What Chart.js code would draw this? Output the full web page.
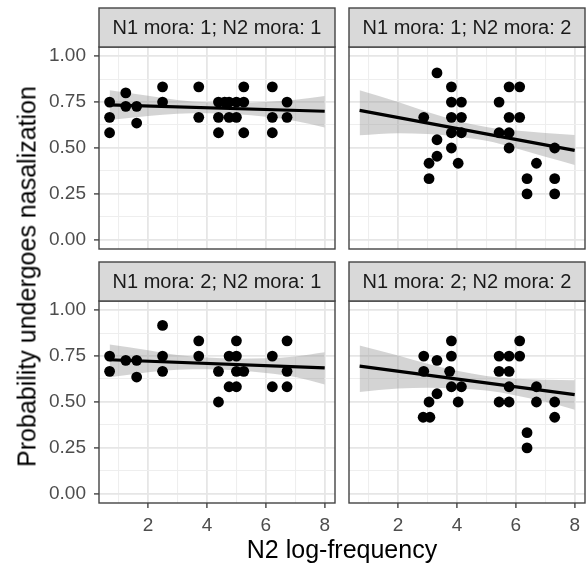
<!DOCTYPE html>
<html>
<head>
<meta charset="utf-8">
<script src="https://cdn.jsdelivr.net/npm/chart.js@4.4.1/dist/chart.umd.min.js"></script>
<style>
html, body { margin: 0; padding: 0; background: #fff; }
#wrap { position: relative; width: 587px; height: 564px; overflow: hidden; font-family: "Liberation Sans", Arial, sans-serif; }
#wrap canvas { position: absolute; left: 0; top: 0; }
.axis-title { position: absolute; font-size: 25px; line-height: 25px; color: #000; white-space: nowrap; text-align: center; }
</style>
</head>
<body>
<div id="wrap">
  <canvas id="p1" width="587" height="564"></canvas>
  <canvas id="p2" width="587" height="564"></canvas>
  <canvas id="p3" width="587" height="564"></canvas>
  <canvas id="p4" width="587" height="564"></canvas>
  <div class="axis-title" style="left:142px; top:537px; width:400px;">N2 log-frequency</div>
  <div class="axis-title" style="left:-173px; top:264px; width:400px; transform:rotate(-90deg);">Probability undergoes nasalization</div>
</div>
<script>
// facet labels and axis breaks
const stripLabels = ['N1 mora: 1; N2 mora: 1', 'N1 mora: 1; N2 mora: 2', 'N1 mora: 2; N2 mora: 1', 'N1 mora: 2; N2 mora: 2'];
const xTickValues = [2, 4, 6, 8];
const xMinor = [1, 3, 5, 7];
const yTickValues = [0, 0.25, 0.5, 0.75, 1];
const yMinor = [0.125, 0.375, 0.625, 0.875];

// points, one pair of arrays per panel
const p1X = [0.69, 0.69, 0.69, 1.24, 1.24, 1.61, 1.61, 2.49, 2.49, 3.72, 3.72, 4.39, 4.39, 4.39, 4.6, 4.75, 4.75, 5.0, 5.0, 5.25, 5.25, 5.25, 6.22, 6.22, 6.22, 6.72, 6.72];
const p1Y = [0.75, 0.667, 0.583, 0.8, 0.727, 0.727, 0.636, 0.833, 0.75, 0.833, 0.667, 0.75, 0.667, 0.583, 0.75, 0.75, 0.667, 0.75, 0.667, 0.833, 0.75, 0.583, 0.833, 0.667, 0.583, 0.75, 0.667];

const p2X = [3.32, 3.81, 3.81, 4.15, 3.81, 4.15, 2.87, 3.81, 4.15, 3.32, 3.81, 3.32, 3.05, 4.04, 3.05, 5.43, 5.77, 6.13, 5.77, 6.13, 5.43, 5.77, 5.77, 6.70, 6.38, 6.38, 7.32, 7.32, 7.32];
const p2Y = [0.909, 0.833, 0.75, 0.75, 0.667, 0.667, 0.667, 0.583, 0.583, 0.545, 0.5, 0.455, 0.417, 0.417, 0.333, 0.75, 0.833, 0.833, 0.667, 0.667, 0.583, 0.583, 0.5, 0.417, 0.333, 0.25, 0.5, 0.333, 0.25];

const p3X = [0.69, 0.69, 1.24, 1.61, 1.61, 2.49, 2.49, 2.49, 3.72, 3.72, 4.39, 4.39, 4.75, 4.75, 5.0, 5.0, 5.0, 5.0, 5.25, 6.22, 6.22, 6.72, 6.72, 6.72];
const p3Y = [0.75, 0.667, 0.727, 0.727, 0.636, 0.917, 0.75, 0.667, 0.833, 0.75, 0.667, 0.5, 0.75, 0.583, 0.833, 0.75, 0.667, 0.583, 0.667, 0.75, 0.583, 0.833, 0.667, 0.583];

const p4X = [2.87, 2.87, 2.85, 3.08, 3.05, 3.32, 3.32, 3.81, 3.81, 3.75, 3.81, 4.15, 4.04, 5.43, 5.77, 5.43, 5.77, 5.77, 5.43, 5.77, 6.13, 6.13, 6.70, 6.70, 7.32, 7.32, 6.38, 6.38];
const p4Y = [0.75, 0.667, 0.417, 0.417, 0.5, 0.727, 0.545, 0.833, 0.75, 0.667, 0.583, 0.583, 0.5, 0.75, 0.75, 0.667, 0.667, 0.583, 0.5, 0.5, 0.833, 0.75, 0.583, 0.5, 0.5, 0.417, 0.333, 0.25];

// fitted lines (ends) and confidence bands
const fitX = [0.69, 8.0];
const p1Fit = [0.735, 0.70];
const p2Fit = [0.705, 0.487];
const p3Fit = [0.73, 0.686];
const p4Fit = [0.695, 0.54];

const bandX = [0.69, 2, 3, 4, 5, 6, 7, 8];
const p1Upper = [0.815, 0.784, 0.762, 0.749, 0.744, 0.75, 0.763, 0.783];
const p1Lower = [0.652, 0.674, 0.686, 0.689, 0.684, 0.67, 0.647, 0.612];
const p2Upper = [0.815, 0.751, 0.696, 0.649, 0.615, 0.595, 0.582, 0.571];
const p2Lower = [0.570, 0.581, 0.576, 0.563, 0.539, 0.499, 0.452, 0.408];
const p3Upper = [0.813, 0.782, 0.756, 0.742, 0.736, 0.738, 0.748, 0.771];
const p3Lower = [0.635, 0.662, 0.676, 0.678, 0.672, 0.658, 0.636, 0.595];
const p4Upper = [0.807, 0.753, 0.708, 0.670, 0.642, 0.626, 0.621, 0.618];
const p4Lower = [0.555, 0.573, 0.578, 0.574, 0.562, 0.536, 0.501, 0.458];

Chart.defaults.font.family = '"Liberation Sans", Arial, sans-serif';

const zip = (xs, ys) => xs.map((x, i) => ({ x: x, y: ys[i] }));

// panel border + grey strip on top, ggplot facet style
const facetFrame = {
  id: 'facetFrame',
  afterDraw(chart, args, opts) {
    const { ctx, chartArea: a } = chart;
    const h = 39;
    ctx.save();
    ctx.strokeStyle = '#444444';
    ctx.lineWidth = 1.4;
    ctx.strokeRect(a.left, a.top, a.right - a.left, a.bottom - a.top);
    ctx.fillStyle = '#d9d9d9';
    ctx.fillRect(a.left, a.top - h, a.right - a.left, h);
    ctx.strokeRect(a.left, a.top - h, a.right - a.left, h);
    ctx.fillStyle = '#1a1a1a';
    ctx.font = '20px "Liberation Sans", Arial, sans-serif';
    ctx.textAlign = 'center';
    ctx.textBaseline = 'middle';
    ctx.fillText(opts.label, (a.left + a.right) / 2, a.top - h / 2 + 1);
    ctx.restore();
  }
};

function makePanel(id, label, xs, ys, fitY, upper, lower, col, row) {
  const left = col === 0 ? 99 : 349;
  const right = col === 0 ? 335 : 585;
  const top = row === 0 ? 47 : 301;
  const bottom = row === 0 ? 249 : 503;
  const xAxisH = row === 1 ? 40 : 0;
  const isMajorX = v => xTickValues.includes(v);
  const isMajorY = v => yTickValues.includes(v);

  new Chart(document.getElementById(id), {
    type: 'scatter',
    data: {
      datasets: [
        {
          data: zip(fitX, fitY),
          showLine: true,
          borderColor: '#000',
          borderWidth: 3.2,
          pointRadius: 0
        },
        {
          data: zip(xs, ys),
          backgroundColor: '#000',
          borderWidth: 0,
          pointRadius: 5.4
        },
        {
          data: zip(bandX, upper),
          showLine: true,
          borderWidth: 0,
          borderColor: 'rgba(0,0,0,0)',
          pointRadius: 0,
          tension: 0.4,
          cubicInterpolationMode: 'monotone',
          fill: '+1',
          backgroundColor: 'rgba(153,153,153,0.42)'
        },
        {
          data: zip(bandX, lower),
          showLine: true,
          borderWidth: 0,
          borderColor: 'rgba(0,0,0,0)',
          pointRadius: 0,
          tension: 0.4,
          cubicInterpolationMode: 'monotone'
        }
      ]
    },
    options: {
      responsive: false,
      animation: false,
      devicePixelRatio: 1,
      layout: {
        autoPadding: false,
        padding: { left: col === 0 ? 0 : left, right: 587 - right, top: top, bottom: 564 - bottom - xAxisH }
      },
      plugins: {
        legend: { display: false },
        tooltip: { enabled: false },
        facetFrame: { label: label }
      },
      scales: {
        x: {
          type: 'linear',
          min: 0.33,
          max: 8.35,
          afterBuildTicks: s => { s.ticks = xTickValues.concat(xMinor).sort((a, b) => a - b).map(v => ({ value: v })); },
          afterFit: s => { s.height = xAxisH; },
          border: { display: false },
          grid: {
            color: c => isMajorX(c.tick.value) ? '#e6e6e6' : '#eeeeee',
            lineWidth: c => isMajorX(c.tick.value) ? 1.8 : 1.1,
            drawTicks: row === 1,
            tickLength: 5,
            tickWidth: 1.4,
            tickColor: c => isMajorX(c.tick.value) ? '#444444' : 'rgba(0,0,0,0)'
          },
          ticks: {
            display: row === 1,
            autoSkip: false,
            maxRotation: 0,
            padding: 6,
            color: '#4d4d4d',
            font: { size: 19 },
            callback: v => isMajorX(v) ? String(v) : ''
          }
        },
        y: {
          type: 'linear',
          min: -0.05,
          max: 1.05,
          afterBuildTicks: s => { s.ticks = yTickValues.concat(yMinor).sort((a, b) => a - b).map(v => ({ value: v })); },
          afterFit: s => { s.width = col === 0 ? left : 0; },
          border: { display: false },
          grid: {
            color: c => isMajorY(c.tick.value) ? '#e6e6e6' : '#eeeeee',
            lineWidth: c => isMajorY(c.tick.value) ? 1.8 : 1.1,
            drawTicks: col === 0,
            tickLength: 5,
            tickWidth: 1.4,
            tickColor: c => isMajorY(c.tick.value) ? '#444444' : 'rgba(0,0,0,0)'
          },
          ticks: {
            display: col === 0,
            autoSkip: false,
            padding: 8,
            color: '#4d4d4d',
            font: { size: 19 },
            callback: v => isMajorY(v) ? v.toFixed(2) : ''
          }
        }
      }
    },
    plugins: [facetFrame]
  });
}

makePanel('p1', stripLabels[0], p1X, p1Y, p1Fit, p1Upper, p1Lower, 0, 0);
makePanel('p2', stripLabels[1], p2X, p2Y, p2Fit, p2Upper, p2Lower, 1, 0);
makePanel('p3', stripLabels[2], p3X, p3Y, p3Fit, p3Upper, p3Lower, 0, 1);
makePanel('p4', stripLabels[3], p4X, p4Y, p4Fit, p4Upper, p4Lower, 1, 1);
</script>
</body>
</html>
